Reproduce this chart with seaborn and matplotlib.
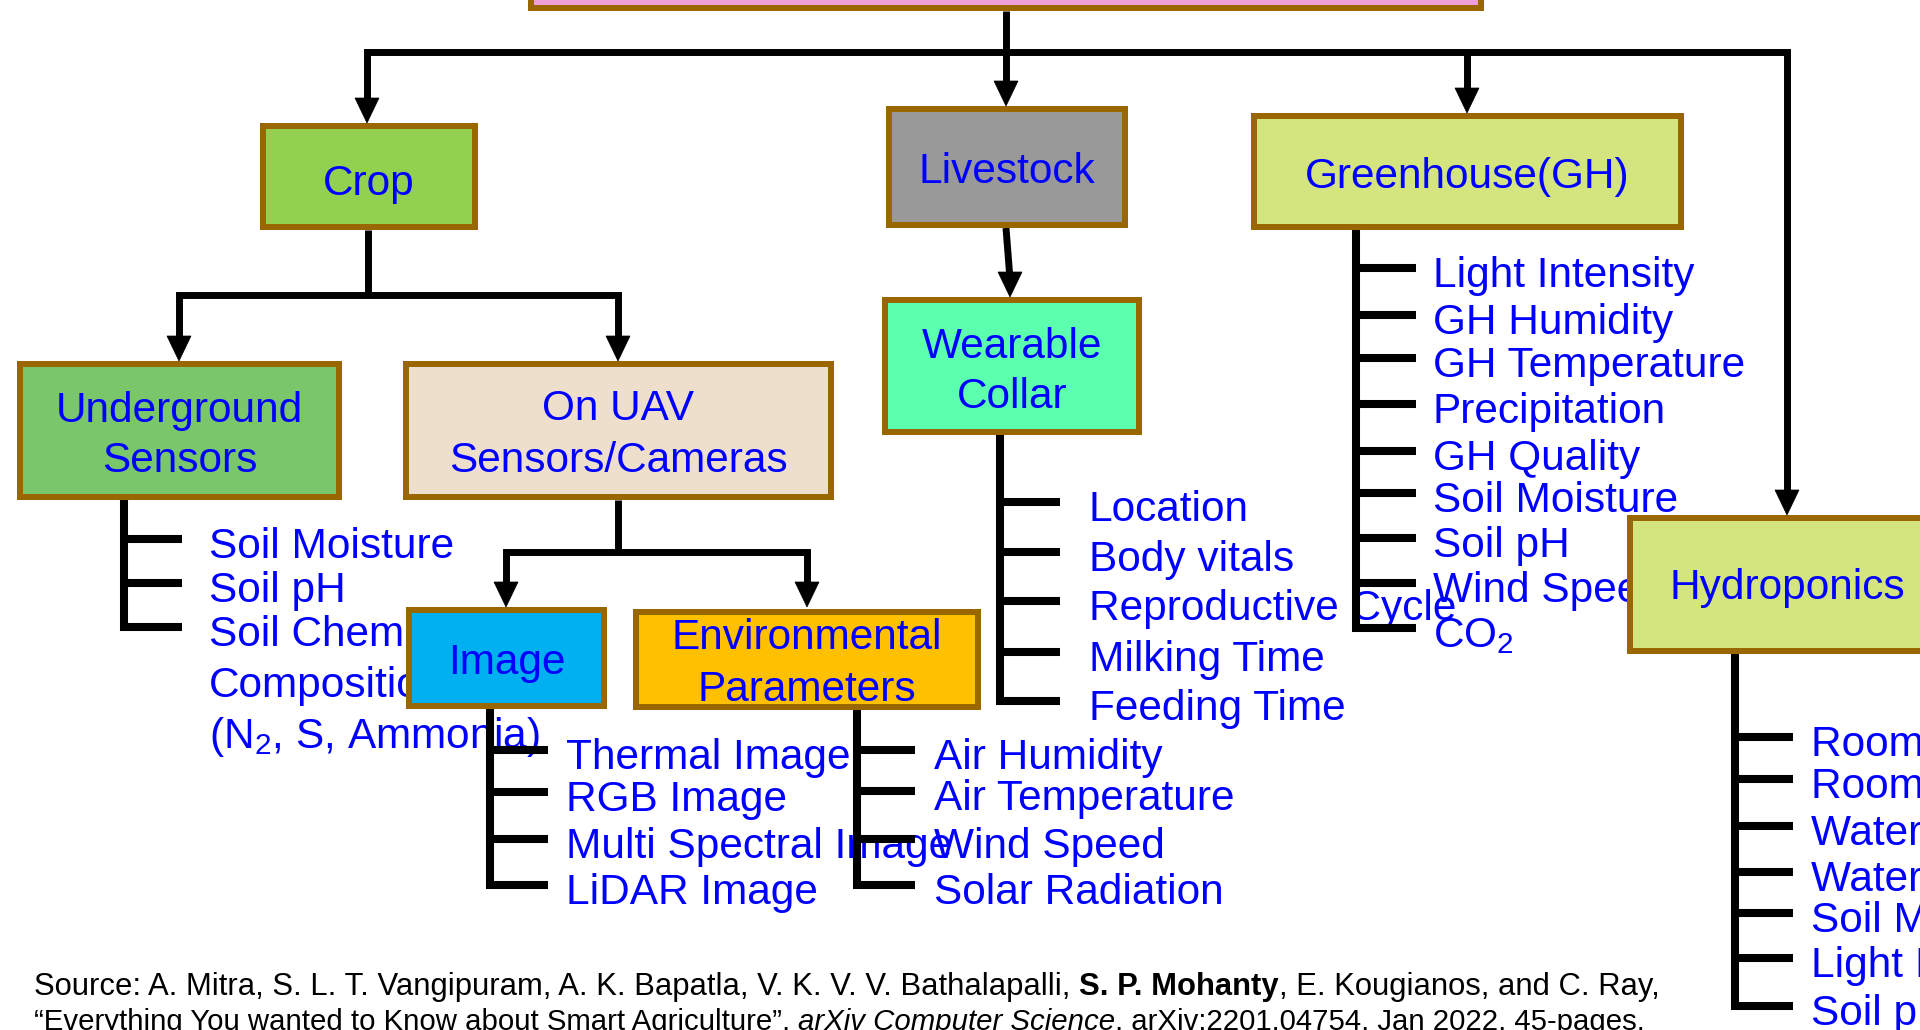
import matplotlib
matplotlib.use("Agg")
import matplotlib.pyplot as plt
import seaborn as sns
from matplotlib.patches import Rectangle, Polygon

# ---------------- data (text content of the taxonomy) ----------------
root_children = ["Crop", "Livestock", "Greenhouse(GH)", "Hydroponics"]
crop_children = [["Underground", "Sensors"], ["On UAV", "Sensors/Cameras"]]
uav_children = [["Image"], ["Environmental", "Parameters"]]
livestock_children = [["Wearable", "Collar"]]
underground_items = ["Soil Moisture", "Soil pH",
                     "Soil Chemical\nComposition\n(N$_2$, S, Ammonia)"]
image_items = ["Thermal Image", "RGB Image", "Multi Spectral Image", "LiDAR Image"]
env_items = ["Air Humidity", "Air Temperature", "Wind Speed", "Solar Radiation"]
collar_items = ["Location", "Body vitals", "Reproductive Cycle", "Milking Time",
                "Feeding Time"]
gh_items = ["Light Intensity", "GH Humidity", "GH Temperature", "Precipitation",
            "GH Quality", "Soil Moisture", "Soil pH", "Wind Speed", "CO$_2$"]
hydro_items = ["Room Temperature", "Room Humidity", "Water Temperature",
               "Water Level", "Soil Moisture", "Light Intensity", "Soil pH"]
source_line1 = [("Source: A. Mitra, S. L. T. Vangipuram, A. K. Bapatla, V. K. V. V. Bathalapalli, ", "normal", "normal"),
                ("S. P. Mohanty", "bold", "normal"),
                (", E. Kougianos, and C. Ray,", "normal", "normal")]
source_line2 = [("\u201cEverything You wanted to Know about Smart Agriculture\u201d, ", "normal", "normal"),
                ("arXiv Computer Science", "normal", "italic"),
                (", arXiv:2201.04754, Jan 2022, 45-pages.", "normal", "normal")]

# ---------------- style ----------------
sns.set_theme(style="white")
plt.rcParams["font.family"] = ["Liberation Sans", "DejaVu Sans"]
plt.rcParams["mathtext.fontset"] = "custom"
plt.rcParams["mathtext.rm"] = "Liberation Sans"
plt.rcParams["mathtext.it"] = "Liberation Sans:italic"
plt.rcParams["mathtext.bf"] = "Liberation Sans:bold"
plt.rcParams["mathtext.default"] = "regular"

BLUE = "#0000FF"
EDGE = "#996600"
FS = 30.5
EM = FS * 100 / 72.0
CAP_OFF = 0.35 * EM          # cap-centre -> baseline
BUS_LW = 5.0
LIST_LW = 5.8
PX = 0.72                    # points per pixel at dpi 100
HL, HW = 25, 12              # arrow head length / half width (px)

fig = plt.figure(figsize=(19.2, 10.3), dpi=100)
ax = fig.add_axes([0, 0, 1, 1])
ax.set_xlim(0, 1920)
ax.set_ylim(1030, 0)
ax.axis("off")

# ---------------- layout (pixels) ----------------
boxes = {
    "root":  (528, -150, 1484, 11, "#EE9FD6", [], []),
    "crop":  (260, 123, 478, 230, "#92D050", [root_children[0]], [180]),
    "live":  (886, 106, 1128, 228, "#999999", [root_children[1]], [168]),
    "gh":    (1251, 113, 1684, 230, "#D4E47F", [root_children[2]], [173]),
    "hydro": (1627, 515, 1960, 654, "#D4E47F", [root_children[3]], [584]),
    "ug":    (17, 361, 342, 500, "#7AC66A", crop_children[0], [407, 457]),
    "uav":   (403, 361, 834, 500, "#EEDFCC", crop_children[1], [405, 457]),
    "wear":  (882, 297, 1142, 435, "#5CFFAE", livestock_children[0], [343, 393]),
    "image": (406, 607, 607, 709, "#00B0F0", uav_children[0], [659]),
    "env":   (633, 609, 981, 710, "#FFC000", uav_children[1], [634, 686]),
}
text_cx = {"hydro": 1787}

for key, (x0, y0, x1, y1, fc, lines, ys) in boxes.items():
    ax.add_patch(Rectangle((x0 + 3, y0 + 3), x1 - x0 - 6, y1 - y0 - 6,
                           facecolor=fc, edgecolor=EDGE, linewidth=6 * PX,
                           joinstyle="miter", zorder=3))
    cx = text_cx.get(key, (x0 + x1) / 2)
    for ln, yy in zip(lines, ys):
        ax.text(cx, yy + CAP_OFF, ln, color=BLUE, fontsize=FS, ha="center",
                va="baseline", zorder=5)


def line(xs, ys, lw=BUS_LW):
    ax.plot(xs, ys, color="black", lw=lw, solid_joinstyle="miter",
            solid_capstyle="butt", zorder=2)


def arrow_head(x, ytip):
    ax.add_patch(Polygon([(x, ytip), (x - HW, ytip - HL), (x + HW, ytip - HL)],
                         closed=True, facecolor="black", edgecolor="black",
                         lw=0.5, zorder=4))


# root -> livestock
line([1006, 1006], [11, 106 - HL + 2])
arrow_head(1006, 106)
# main bus
line([367, 367, 1787, 1787], [123 - HL + 2, 52, 52, 515 - HL + 2])
arrow_head(367, 123)
arrow_head(1787, 515)
line([1467, 1467], [52, 113 - HL + 2])
arrow_head(1467, 113)
# crop -> sub bus
line([368, 368], [230, 295])
line([179, 179, 618, 618], [361 - HL + 2, 295, 295, 361 - HL + 2])
arrow_head(179, 361)
arrow_head(618, 361)
# livestock -> wearable
line([1006, 1009.6], [228, 297 - HL + 2])
arrow_head(1010, 297)
# uav -> sub bus
line([618, 618], [500, 552])
line([506, 506, 807, 807], [607 - HL + 2, 552, 552, 607 - HL + 2])
arrow_head(506, 607)
arrow_head(807, 607)

# ---------------- item lists ----------------
lists = [
    # items, vertical x, top y, tick end x, label x, tick ys
    (underground_items, 124, 500, 182, 209, [539, 583, 627]),
    (image_items, 490, 709, 548, 566, [750, 792, 839, 885]),
    (env_items, 857, 710, 915, 934, [750, 791, 839, 885]),
    (collar_items, 1000, 435, 1060, 1089, [502, 552, 601, 652, 701]),
    (gh_items, 1356, 230, 1416, 1433, [268, 315, 358, 404, 451, 493, 538, 583, 628]),
    (hydro_items, 1735, 654, 1793, 1811, [737, 779, 826, 872, 913, 958, 1006]),
]
LABEL_OFF = 4
LINE_PITCH = 51
for items, vx, top, tx, lx, tys in lists:
    line([vx, vx, tx], [top, tys[-1], tys[-1]], lw=LIST_LW)
    for ty in tys[:-1]:
        line([vx, tx], [ty, ty], lw=LIST_LW)
    for item, ty in zip(items, tys):
        for k, part in enumerate(item.split("\n")):
            ax.text(lx, ty + LABEL_OFF + k * LINE_PITCH + CAP_OFF, part, color=BLUE,
                    fontsize=FS, ha="left", va="baseline", zorder=1)

# ---------------- source footer ----------------
renderer = fig.canvas.get_renderer()


def run_width(txt, size, weight, style):
    t = ax.text(0, 0, txt + "|", fontsize=size, fontweight=weight, fontstyle=style)
    w1 = t.get_window_extent(renderer).width
    t.remove()
    t = ax.text(0, 0, "|", fontsize=size, fontweight=weight, fontstyle=style)
    w0 = t.get_window_extent(renderer).width
    t.remove()
    return w1 - w0


base_size = 20.0
total1 = sum(run_width(s, base_size, w, st) for s, w, st in source_line1)
total2 = sum(run_width(s, base_size, w, st) for s, w, st in source_line2)
fsize1 = base_size * (1650 - 34) / total1
fsize2 = base_size * (1641 - 34) / total2


def draw_runs(runs, x, ycap, fsize):
    em_f = fsize * 100 / 72.0
    for s, w, st in runs:
        ax.text(x, ycap + 0.35 * em_f, s, fontsize=fsize, fontweight=w, fontstyle=st,
                color="black", ha="left", va="baseline", zorder=6)
        x += run_width(s, fsize, w, st)


draw_runs(source_line1, 34, 984, fsize1)
draw_runs(source_line2, 34, 1020, fsize2)

fig.savefig("out.png", dpi=100, facecolor="white")
